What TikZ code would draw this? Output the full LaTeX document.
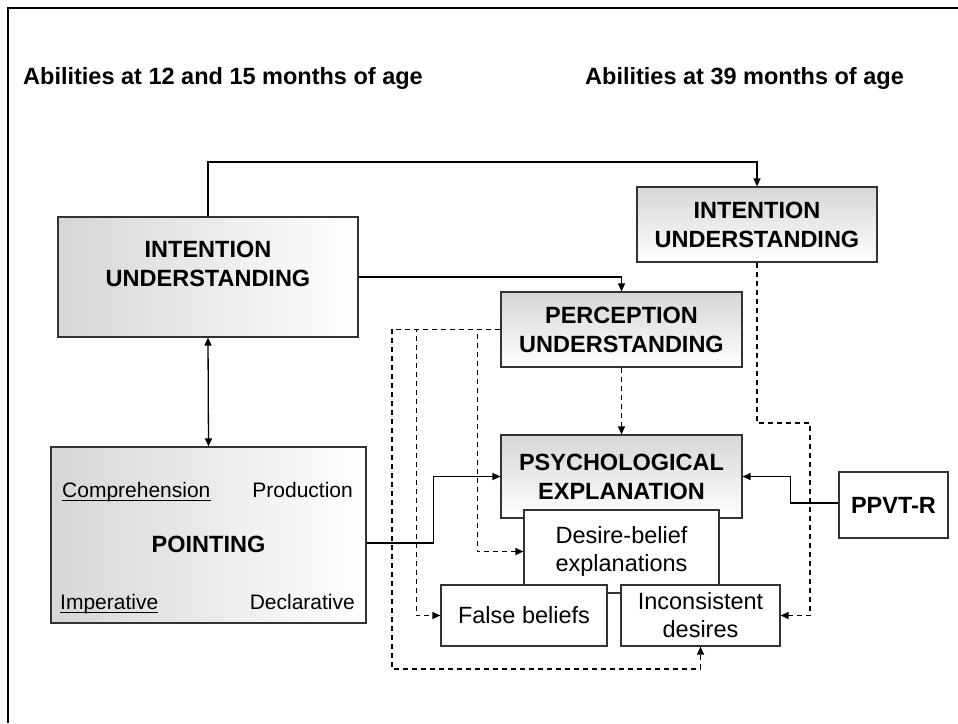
\documentclass[tikz,border=0pt]{standalone}
\usepackage{fontspec}
\setmainfont{Liberation Sans}
\usetikzlibrary{arrows.meta,calc}

\begin{document}
\begin{tikzpicture}[x=1pt,y=-1pt,
  tip/.tip={Triangle[length=8pt,width=7pt]},
  box/.style={draw=black!80, line width=1.2pt, rectangle, inner sep=0pt,
              align=center},
  heavy/.style={font=\bfseries\fontsize{23.5}{29}\selectfont},
  light/.style={font=\fontsize{23.5}{28}\selectfont},
  small/.style={font=\fontsize{21}{25}\selectfont, inner sep=0pt},
  title/.style={font=\bfseries\fontsize{23.5}{28}\selectfont, inner sep=0pt, anchor=base west},
  hgrad/.style={left color=black!16, right color=white},
  vgrad/.style={top color=black!16, bottom color=white},
  conn/.style={line width=1.3pt, -tip},
  dsh/.style={line width=1.2pt, dash pattern=on 5pt off 4pt, -tip}]

\useasboundingbox (0,0) rectangle (958,723);
\fill[white] (0,0) rectangle (958,723);

% frame
\draw[line width=2.5pt] (8,723) -- (8,8) -- (958,8);

% headings
\node[title] (h1) at (23,84) {Abilities at 12 and 15 months of age};
\node[title] (h2) at (585,84) {Abilities at 39 months of age};

% boxes, 12/15 months
\node[box, hgrad, minimum width=300pt, minimum height=120pt] (iu1) at (208,277) {};
\node[heavy, align=center] (iu1t) at (208,264) {INTENTION\\UNDERSTANDING};

\node[box, hgrad, minimum width=315pt, minimum height=176pt] (pt) at (208.5,535) {};
\node[small, anchor=base west] (comp) at (62,497) {Comprehension};
\node[small, anchor=base east] (prod) at (353,497) {Production};
\node[heavy, inner sep=0pt, anchor=base] (ptt) at (208.5,552) {POINTING};
\node[small, anchor=base west] (imp) at (60,609) {Imperative};
\node[small, anchor=base east] (decl) at (355,609) {Declarative};
\draw[line width=0.9pt] ([yshift=-3pt]comp.base west) -- ([yshift=-3pt]comp.base east);
\draw[line width=0.9pt] ([yshift=-3pt]imp.base west) -- ([yshift=-3pt]imp.base east);

% boxes, 39 months
\node[box, vgrad, heavy, minimum width=240pt, minimum height=75pt] (iu2) at (757,224.5) {INTENTION\\UNDERSTANDING};
\node[box, vgrad, heavy, minimum width=241pt, minimum height=75pt] (pu) at (621.5,329.5) {PERCEPTION\\UNDERSTANDING};
\node[box, vgrad, heavy, minimum width=241pt, minimum height=83pt] (psy) at (621.5,476.5) {PSYCHOLOGICAL\\EXPLANATION};
\node[box, fill=white, light, minimum width=195pt, minimum height=83pt] (db) at (621.5,551.5) {Desire-belief\\explanations};
\node[box, fill=white, light, minimum width=166pt, minimum height=61pt] (fb) at (524,615.5) {False beliefs};
\node[box, fill=white, light, minimum width=159pt, minimum height=61pt] (inc) at (700.5,615.5) {Inconsistent\\desires};
\node[box, fill=white, heavy, minimum width=109pt, minimum height=66pt] (pp) at (893.5,505) {PPVT-R};

% solid connectors
\coordinate (topbend) at (757,162);
\draw[conn] (iu1.north) |- (topbend) -- (iu2.north);
\draw[conn] (iu1.east) -| (pu.north);
\draw[line width=1.3pt, tip-tip] (iu1.south) -- (pt.north);
\draw[conn] ($(pt.east)+(0,8)$) -- ++(67,0) |- (psy.west);
\draw[conn] ($(pp.west)+(0,-2)$) -- ++(-48,0) |- (psy.east);

% dashed connectors
\draw[dsh] (pu.south) -- (psy.north);
\coordinate (dbin) at ($(db.west)+(-46,0)$);
\coordinate (fbin) at ($(fb.west)+(-24,0)$);
\coordinate (incin) at (392,669);
\draw[dsh] (pu.west) -| (dbin) -- (db.west);
\draw[dsh] (pu.west) -| (fbin) -- (fb.west);
\draw[dsh] (pu.west) -| (incin) -| (inc.south);
\coordinate (rbend) at (810,423);
\draw[dsh] (iu2.south) |- (rbend) |- (inc.east);

\end{tikzpicture}
\end{document}
